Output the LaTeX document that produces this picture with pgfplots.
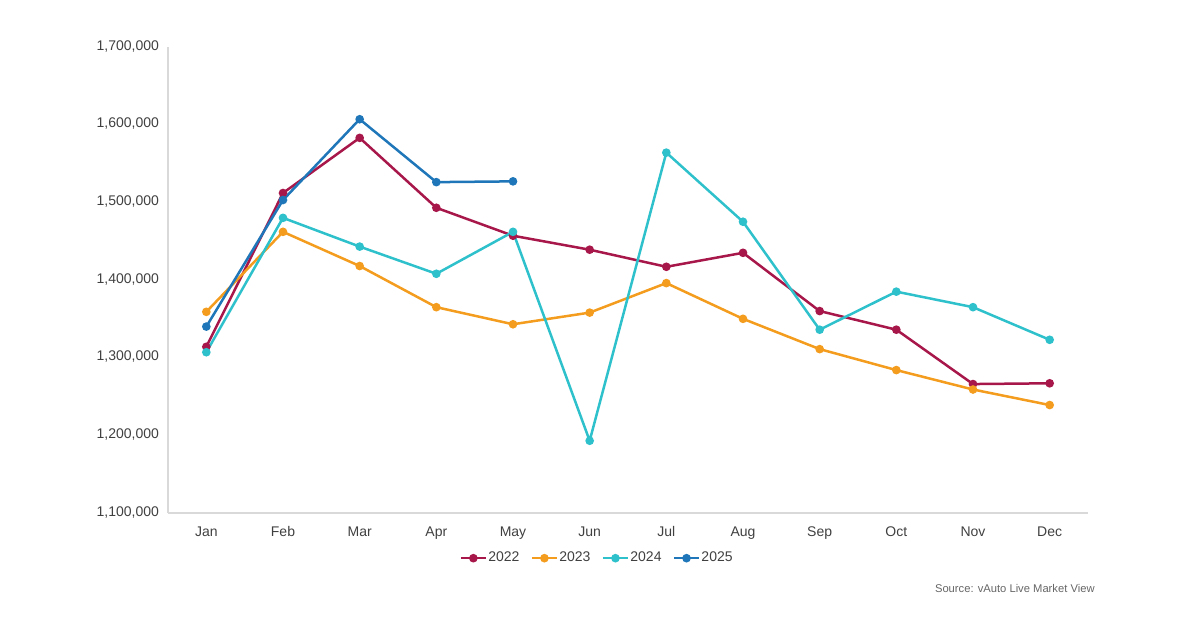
\documentclass[border=0pt]{standalone}
\usepackage{pgfplots}
\pgfplotsset{compat=1.18}
\usepackage{fontspec}
\setmainfont{Liberation Sans}
\definecolor{c22}{HTML}{A8174A}
\definecolor{c23}{HTML}{F39C1D}
\definecolor{c24}{HTML}{2EC1CC}
\definecolor{c25}{HTML}{1F77B9}
\definecolor{txt}{HTML}{404040}
\definecolor{axl}{HTML}{D9D9D9}
\begin{document}
\begin{tikzpicture}
\path[use as bounding box] (0,0) rectangle (600pt,315pt);
\begin{axis}[
  at={(84pt,58.5pt)}, anchor=south west,
  width=460pt, height=233pt, scale only axis,
  xmin=-0.5, xmax=11.5, ymin=1100000, ymax=1700000,
  xtick={0,...,11},
  xticklabels={Jan,Feb,Mar,Apr,May,Jun,Jul,Aug,Sep,Oct,Nov,Dec},
  ytick={1100000,1200000,...,1700000},
  scaled y ticks=false,
  /pgf/number format/.cd, fixed, 1000 sep={,}, assume math mode=true,
  /pgfplots/.cd,
  axis x line=bottom, axis y line=left,
  axis line style={draw=axl, line width=0.6pt, -},
  major tick length=0pt,
  tick label style={font=\fontsize{7}{8}\selectfont, text=txt},
  typeset ticklabels with strut,
  yticklabel style={xshift=-1pt},
  xticklabel style={yshift=-2.5pt},
  every axis plot/.append style={line width=1.25pt, mark=*, mark size=1.5pt, mark options={solid}},
  legend columns=4,
  legend style={at={(0.466,-0.097)}, anchor=center, draw=none, fill=none,
    font=\fontsize{7}{8}\selectfont, text=txt,
    nodes={inner xsep=0.6pt},
    /tikz/every even column/.append style={column sep=5pt}},
  legend image code/.code={\draw[#1] (0pt,0pt) -- (6.25pt,0pt) -- (12.5pt,0pt); \draw[#1, mark repeat=1] plot coordinates {(6.25pt,0pt)};},
]
\addplot[c22, mark options={fill=c22}] coordinates {
(0,1314000) (1,1512000) (2,1583000) (3,1493000) (4,1457000) (5,1439000)
(6,1417000) (7,1435000) (8,1360000) (9,1336000) (10,1266000) (11,1267000)};
\addlegendentry{2022}
\addplot[c23, mark options={fill=c23}] coordinates {
(0,1359000) (1,1462000) (2,1418000) (3,1365000) (4,1343000) (5,1358000)
(6,1396000) (7,1350000) (8,1311000) (9,1284000) (10,1259000) (11,1239000)};
\addlegendentry{2023}
\addplot[c24, mark options={fill=c24}] coordinates {
(0,1307000) (1,1480000) (2,1443000) (3,1408000) (4,1462000) (5,1193000)
(6,1564000) (7,1475000) (8,1336000) (9,1385000) (10,1365000) (11,1323000)};
\addlegendentry{2024}
\addplot[c25, mark options={fill=c25}] coordinates {
(0,1340000) (1,1503000) (2,1607000) (3,1526000) (4,1527000)};
\addlegendentry{2025}
\end{axis}
\node[anchor=east, text=txt!80, font=\fontsize{5.6}{7}\selectfont, inner sep=0pt] at (547.5pt,20.5pt) {Source: vAuto Live Market View};
\end{tikzpicture}
\end{document}
